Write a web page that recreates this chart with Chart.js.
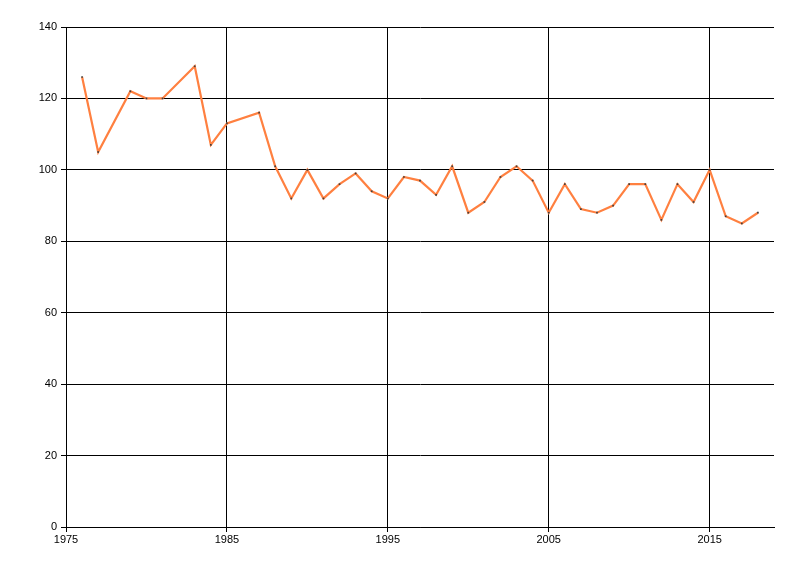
<!DOCTYPE html>
<html>
<head>
<meta charset="utf-8">
<script src="https://cdn.jsdelivr.net/npm/chart.js@4/dist/chart.umd.min.js"></script>
<style>
  html, body { margin: 0; padding: 0; background: #fff; }
  #wrap { width: 800px; height: 576px; }
</style>
</head>
<body>
<div id="wrap"><canvas id="line-chart"></canvas></div>
<script>
// values
const years = [1976, 1977, 1979, 1980, 1981, 1983, 1984, 1985, 1987, 1988, 1989, 1990,
  1991, 1992, 1993, 1994, 1995, 1996, 1997, 1998, 1999, 2000, 2001, 2002, 2003, 2004,
  2005, 2006, 2007, 2008, 2009, 2010, 2011, 2012, 2013, 2014, 2015, 2016, 2017, 2018];
const values = [126, 105, 122, 120, 120, 129, 107, 113, 116, 101, 92, 100,
  92, 96, 99, 94, 92, 98, 97, 93, 101, 88, 91, 98, 101, 97,
  88, 96, 89, 88, 90, 96, 96, 86, 96, 91, 100, 87, 85, 88];
const xTicks = [1975, 1985, 1995, 2005, 2015];
const yTicks = [0, 20, 40, 60, 80, 100, 120, 140];

const tickFont = { family: "'Liberation Sans Narrow', 'Liberation Sans', Arial, sans-serif", size: 11 };

const ctx = document.getElementById('line-chart').getContext('2d');
const lineChart = new Chart(ctx, {
  type: 'line',
  data: {
    datasets: [
      {
        data: years.map((y, i) => ({ x: y, y: values[i] })),
        borderColor: 'rgb(255, 128, 64)',
        borderWidth: 2.2,
        tension: 0,
        pointStyle: 'rect',
        pointRadius: 1.2,
        pointBorderWidth: 0,
        pointBackgroundColor: '#404040',
      },
    ],
  },
  options: {
    responsive: true,
    maintainAspectRatio: false,
    animation: false,
    layout: { padding: { left: 0, right: 26, top: 27, bottom: 0 } },
    scales: {
      x: {
        type: 'linear',
        min: 1975,
        max: 2019,
        afterBuildTicks: (scale) => { scale.ticks = xTicks.map(v => ({ value: v })); },
        afterFit: (scale) => { scale.height = 49; },
        ticks: {
          color: '#000', font: tickFont, padding: 1, maxRotation: 0, autoSkip: false,
          callback: (v) => String(v), // pas de séparateur de milliers
        },
        grid: { color: '#000', lineWidth: 1, tickLength: 5 },
        border: { color: '#000', width: 1 },
      },
      y: {
        min: 0,
        max: 140,
        afterBuildTicks: (scale) => { scale.ticks = yTicks.map(v => ({ value: v })); },
        afterFit: (scale) => { scale.width = 66; },
        ticks: { color: '#000', font: tickFont, padding: 4 },
        grid: { color: '#000', lineWidth: 1, tickLength: 5 },
        border: { color: '#000', width: 1 },
      },
    },
    plugins: {
      legend: { display: false },
      tooltip: { enabled: false },
    },
  },
});
</script>
</body>
</html>
